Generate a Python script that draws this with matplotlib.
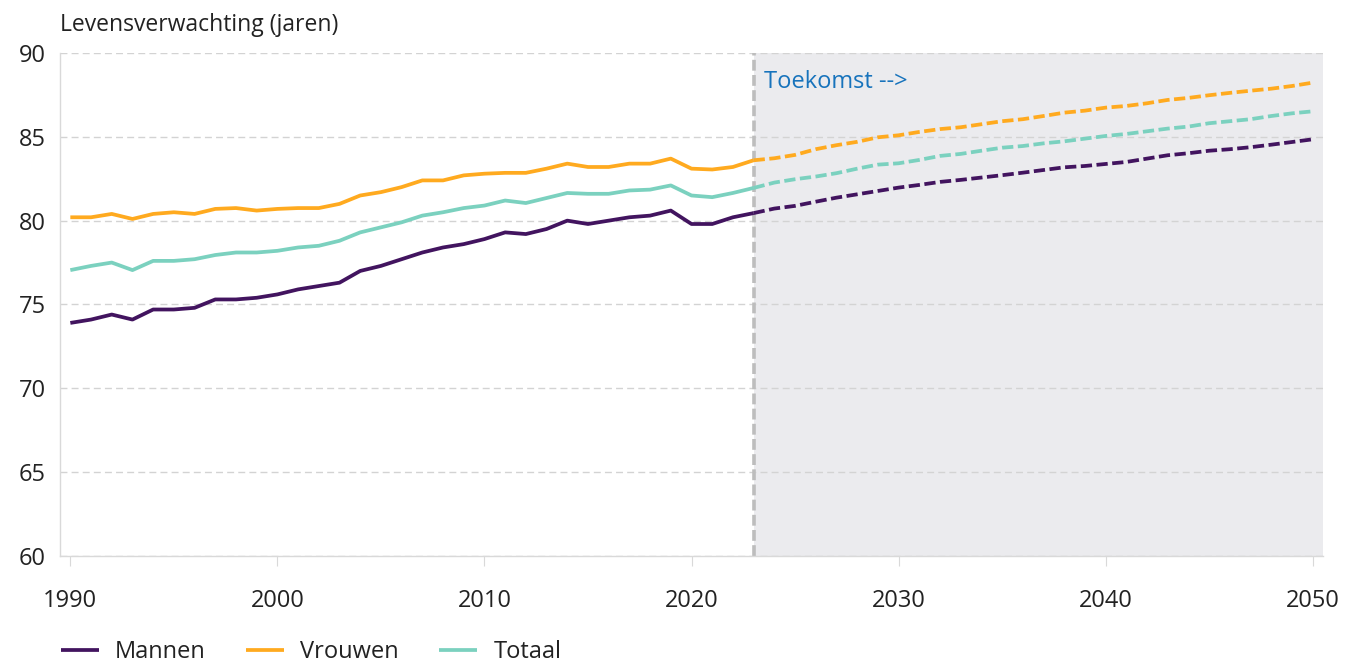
import numpy as np
import matplotlib.pyplot as plt

# historische waarden 1990-2023
years_hist = list(range(1990, 2024))
mannen_hist = [73.9, 74.1, 74.4, 74.1, 74.7, 74.7, 74.8, 75.3, 75.3, 75.4,
               75.6, 75.9, 76.1, 76.3, 77.0, 77.3, 77.7, 78.1, 78.4, 78.6,
               78.9, 79.3, 79.2, 79.5, 80.0, 79.8, 80.0, 80.2, 80.3, 80.6,
               79.8, 79.8, 80.2, 80.45]
vrouwen_hist = [80.2, 80.2, 80.4, 80.1, 80.4, 80.5, 80.4, 80.7, 80.75, 80.6,
                80.7, 80.75, 80.75, 81.0, 81.5, 81.7, 82.0, 82.4, 82.4, 82.7,
                82.8, 82.85, 82.85, 83.1, 83.4, 83.2, 83.2, 83.4, 83.4, 83.7,
                83.1, 83.05, 83.2, 83.6]
totaal_hist = [77.05, 77.3, 77.5, 77.05, 77.6, 77.6, 77.7, 77.95, 78.1, 78.1,
               78.2, 78.4, 78.5, 78.8, 79.3, 79.6, 79.9, 80.3, 80.5, 80.75,
               80.9, 81.2, 81.05, 81.35, 81.65, 81.6, 81.6, 81.8, 81.85, 82.1,
               81.5, 81.4, 81.65, 81.95]

# prognose 2023-2050
years_proj = list(range(2023, 2051))
mannen_proj = [80.45, 80.72, 80.88, 81.13, 81.37, 81.57, 81.77, 81.97, 82.13, 82.31,
               82.43, 82.57, 82.71, 82.86, 83.02, 83.18, 83.26, 83.38, 83.5, 83.7,
               83.9, 84.02, 84.17, 84.26, 84.38, 84.53, 84.69, 84.85]
vrouwen_proj = [83.6, 83.72, 83.92, 84.26, 84.5, 84.7, 84.97, 85.09, 85.29, 85.46,
                85.57, 85.75, 85.93, 86.05, 86.24, 86.44, 86.56, 86.74, 86.84, 87.0,
                87.2, 87.32, 87.48, 87.62, 87.75, 87.87, 88.03, 88.23]
totaal_proj = [81.95, 82.27, 82.47, 82.63, 82.83, 83.1, 83.34, 83.42, 83.62, 83.86,
               83.98, 84.17, 84.35, 84.45, 84.61, 84.73, 84.89, 85.05, 85.17, 85.33,
               85.49, 85.61, 85.81, 85.93, 86.05, 86.24, 86.4, 86.52]

labels = ['Mannen', 'Vrouwen', 'Totaal']
colors = ['#42145F', '#FFAA1F', '#7BD1BF']
xticks = [1990, 2000, 2010, 2020, 2030, 2040, 2050]
yticks = [60, 65, 70, 75, 80, 85, 90]

plt.rcParams['font.family'] = ['Open Sans', 'DejaVu Sans']

fig = plt.figure(figsize=(13.51, 6.68), dpi=100)
ax = fig.add_axes([0.0444, 0.1677, 0.9349, 0.753])

# toekomst-gebied
ax.axvspan(2023, 2050.5, color='#EBEBEE', lw=0, zorder=0)
ax.axvline(2023, color='#BDBDBD', lw=2.6, ls=(0, (3, 1.2)), zorder=1)

hist = [mannen_hist, vrouwen_hist, totaal_hist]
proj = [mannen_proj, vrouwen_proj, totaal_proj]
for h, p, c, lab in zip(hist, proj, colors, labels):
    ax.plot(years_hist, h, color=c, lw=2.7, label=lab, zorder=3, solid_capstyle='butt')
    ax.plot(years_proj, p, color=c, lw=2.7, ls=(0, (3.0, 1.2)), zorder=3)

ax.set_xlim(1989.5, 2050.5)
ax.set_ylim(60, 90)
ax.set_xticks(xticks)
ax.set_yticks(yticks)
ax.grid(axis='y', color='#D3D3D3', lw=1, ls=(0, (5, 3)))
ax.set_axisbelow(True)
for s in ['top', 'right']:
    ax.spines[s].set_visible(False)
ax.spines['left'].set_color('#D9D9D9')
ax.spines['bottom'].set_color('#D9D9D9')
ax.spines['left'].set_linewidth(1)
ax.spines['bottom'].set_linewidth(1)
ax.tick_params(axis='y', length=0, pad=10, labelsize=17, labelcolor='#222222')
ax.tick_params(axis='x', length=7, color='#D9D9D9', pad=17, labelsize=17, labelcolor='#222222')

ax.text(2023.5, 88.25, 'Toekomst -->', color='#1773BC', fontsize=17, va='center', ha='left')
fig.text(0.0444, 0.962, 'Levensverwachting (jaren)', fontsize=16.5, color='#222222', va='center')

fig.legend(loc='center left', bbox_to_anchor=(0.038, 0.024), ncol=3, frameon=False,
           fontsize=17, handlelength=1.6, handletextpad=0.7, columnspacing=1.7,
           labelcolor='#222222', borderaxespad=0)

fig.savefig('out.png', dpi=100)
